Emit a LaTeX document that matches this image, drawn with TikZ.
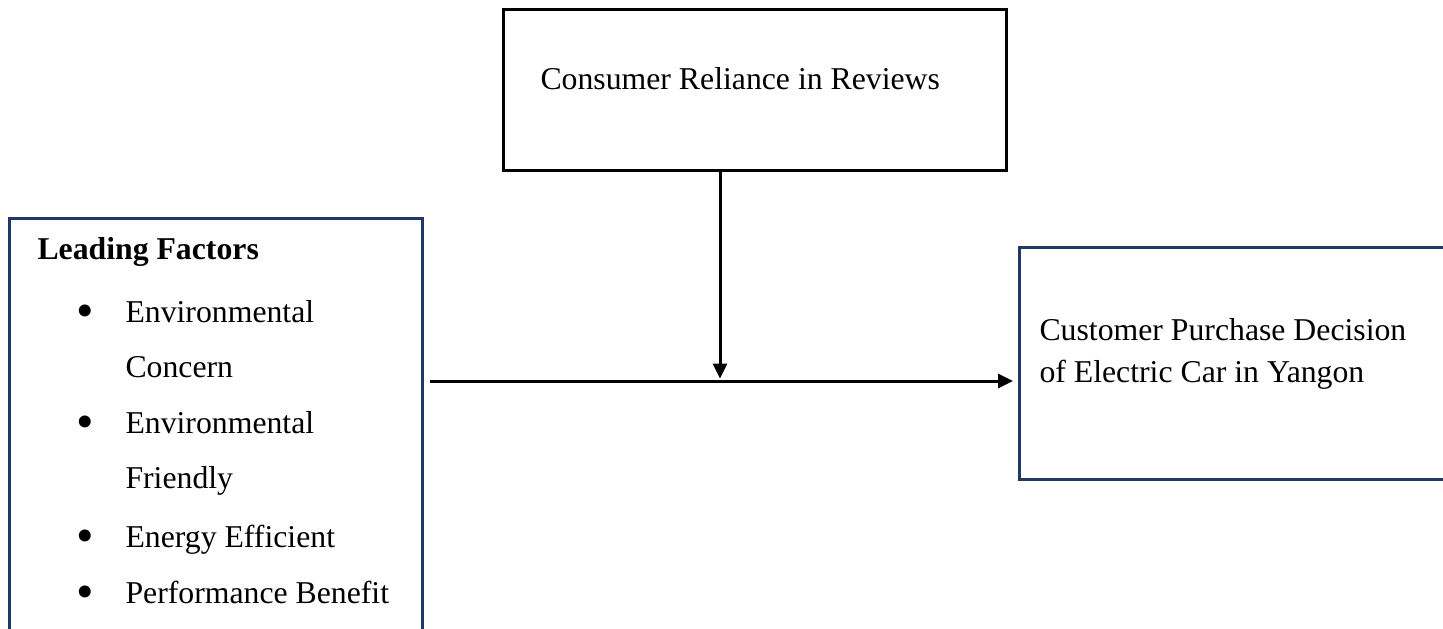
\documentclass[tikz,border=0pt]{standalone}
\usepackage{fontspec}
\setmainfont{Liberation Serif}
\usepackage{xcolor}
\usetikzlibrary{arrows.meta, positioning, calc}

\definecolor{boxblue}{RGB}{31,56,100}

\begin{document}
\begin{tikzpicture}[x=0.4pt, y=-0.4pt,
    box/.style={draw, rectangle, line width=1.2pt, inner sep=0pt, anchor=north west},
    txt/.style={anchor=base west, inner sep=0pt, font=\fontsize{12.7}{15}\selectfont},
    link/.style={line width=1.2pt, -{Triangle[length=6pt, width=5.6pt]}}]
    \useasboundingbox (0,0) rectangle (1443,628);
    \clip (0,0) rectangle (1443,628);

    % Boxes
    \node[box, minimum width=201.2pt, minimum height=64.4pt] (review) at (502,8) {};
    \node[box, draw=boxblue, minimum width=165.2pt, minimum height=200pt] (factors) at (8,217) {};
    \node[box, draw=boxblue, minimum width=200pt, minimum height=92.8pt] (decision) at (1018,246) {};

    % Texts
    \node[txt] (reviewtext) at (540,89) {Consumer Reliance in Reviews};
    \node[txt, font=\fontsize{12.7}{15}\selectfont\bfseries] (factorstitle) at (37,259) {Leading Factors};
    \foreach \y/\t [count=\i] in {322/Environmental, 377/Concern, 433/Environmental,
                                  488/Friendly, 547/Energy Efficient, 603/Performance Benefit}
        \node[txt] (item\i) at (125,\y) {\t};
    \foreach \y/\i in {322/1, 433/3, 547/5, 603/6}
        \node[txt, anchor=base] (dot\i) at (85,\y) {\raisebox{-2.2pt}{\fontsize{20}{20}\selectfont\textbullet}};
    \node[txt] (decisiontext1) at (1039,340) {Customer Purchase Decision};
    \node[txt] (decisiontext2) at (1039,382) {of Electric Car in Yangon};

    % Arrows
    \coordinate (junction) at (720,381);
    \draw[link, shorten >=1pt] (review.south -| junction) -- (junction);
    \draw[link, shorten <=2.4pt, shorten >=2pt] (factors.east |- junction) -- (decision.west |- junction);
\end{tikzpicture}
\end{document}
